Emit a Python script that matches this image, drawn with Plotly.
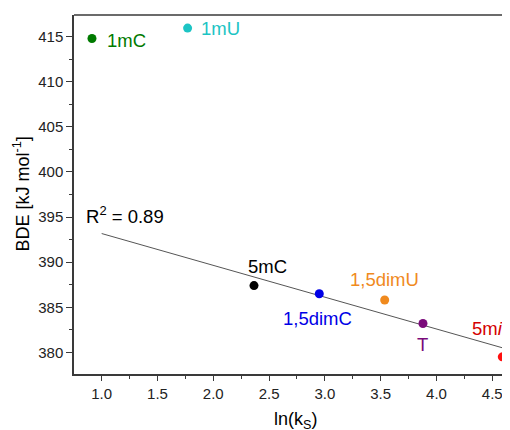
import numpy as np
import plotly.graph_objects as go

# ---- data ----
names = ["1mC", "1mU", "5mC", "1,5dimC", "1,5dimU", "T", "5m<i>i</i>C"]
ln_ks = [0.913, 1.77, 2.365, 2.95, 3.536, 3.879, 4.59]
bde = [414.8, 415.95, 387.4, 386.5, 385.8, 383.2, 379.5]
in_fit = [False, False, True, True, True, True, True]

# ---- style ----
marker_colors = ["#007a00", "#1cc4c4", "#000000", "#0000e6", "#f08a1e", "#7a0a7a", "#ff1010"]
label_colors = ["#007a00", "#1cc4c4", "#000000", "#0000e6", "#f08a1e", "#7a0a7a", "#d40000"]
label_shift = [(35, -2), (33, 0), (13, 19), (-2, -25), (0, 21), (0, -21), (-32, 28)]
label_anchor = ["center", "center", "center", "center", "center", "center", "left"]

FONT = "Liberation Sans, Arial, sans-serif"
LABEL_SIZE = 18.5
TITLE_SIZE = 18

fx = np.array([x for x, f in zip(ln_ks, in_fit) if f])
fy = np.array([y for y, f in zip(bde, in_fit) if f])
slope, intercept = np.polyfit(fx, fy, 1)
r2 = np.corrcoef(fx, fy)[0, 1] ** 2
line_x = np.array([1.0, fx.max()])
line_y = slope * line_x + intercept

fig = go.Figure()
fig.add_trace(go.Scatter(x=line_x, y=line_y, mode="lines",
                         line=dict(color="#555555", width=1), hoverinfo="skip"))
fig.add_trace(go.Scatter(x=ln_ks, y=bde, mode="markers",
                         marker=dict(color=marker_colors, size=9, line=dict(width=0)),
                         cliponaxis=False))

for n, x, y, c, (dx, dy), anc in zip(names, ln_ks, bde, label_colors, label_shift, label_anchor):
    fig.add_annotation(x=x, y=y, text=n, showarrow=False, xshift=dx, yshift=dy,
                       xanchor=anc, font=dict(color=c, size=LABEL_SIZE, family=FONT))

fig.add_annotation(x=0.842, y=395.25, text="R<sup>2</sup> = 0.%02d" % round(r2 * 100),
                   showarrow=False, xanchor="left",
                   font=dict(color="#000000", size=LABEL_SIZE, family=FONT))

# axis titles
fig.add_annotation(xref="paper", yref="paper", x=(295 - 74) / 436, y=0, xanchor="center",
                   yshift=-46, yanchor="middle", text="ln(k<sub>S</sub>)", showarrow=False,
                   font=dict(color="#000000", size=TITLE_SIZE, family=FONT))
fig.add_annotation(xref="paper", yref="paper", x=0, y=0.5, xshift=-52, textangle=-90,
                   xanchor="center", yanchor="middle",
                   text="BDE [kJ mol<sup>-1</sup>]", showarrow=False,
                   font=dict(color="#000000", size=TITLE_SIZE, family=FONT))

axis_common = dict(showgrid=False, zeroline=False, showline=True, linecolor="#3a3a3a",
                   linewidth=1.5, ticks="outside", tickcolor="#3a3a3a", tickwidth=1,
                   tickfont=dict(size=15, family=FONT, color="#222222"), automargin=False)
fig.update_xaxes(range=[0.752, 4.659], tick0=1.0, dtick=0.5, ticklen=5, tickformat=".1f",
                 minor=dict(dtick=0.25, tick0=1.0, ticklen=3, ticks="outside", tickcolor="#3a3a3a"),
                 mirror=False, **axis_common)
fig.update_yaxes(range=[377.6, 417.4], tick0=380, dtick=5, ticklen=6,
                 minor=dict(dtick=2.5, tick0=380, ticklen=3, ticks="outside", tickcolor="#3a3a3a"),
                 mirror=False, **axis_common)
# top border line
fig.add_shape(type="line", xref="paper", yref="paper", x0=0, x1=1, y0=1, y1=1,
              line=dict(color="#3a3a3a", width=1.5))

# page body has an 8px default margin: size the figure to end at the window edges
fig.update_layout(width=502, height=422, showlegend=False,
                  margin=dict(l=66, r=0, t=7, b=56),
                  plot_bgcolor="white", paper_bgcolor="white")

fig.write_html("out.html")
